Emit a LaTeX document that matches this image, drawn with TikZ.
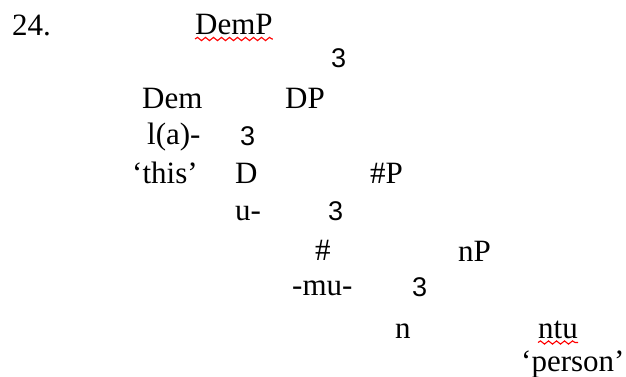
\documentclass[tikz,border=0pt]{standalone}
\usepackage{fontspec}
\setmainfont{Liberation Serif}
\newfontfamily\branchfont{Liberation Sans}
\usetikzlibrary{decorations.pathmorphing}
\begin{document}
\begin{tikzpicture}[x=1pt,y=-1pt,
  lab/.style={anchor=base west,inner sep=0pt,font=\fontsize{31}{36}\selectfont},
  br/.style={anchor=base west,inner sep=0pt,font=\branchfont\fontsize{27}{30}\selectfont},
  spell/.style={red,line width=1.1pt,decorate,decoration={snake,amplitude=1.6pt,segment length=8pt}}]
\useasboundingbox (0,0) rectangle (626,377);
\node[lab] (num) at (12,36) {24.};
\node[lab] (demp) at (195,35) {DemP};
\node[br] (b1) at (331,68) {3};
\node[lab] (dem) at (142,109) {Dem};
\node[lab] (dp) at (285,109) {DP};
\node[lab] (la) at (147,144) {l(a)-};
\node[br] (b2) at (240,145) {3};
\node[lab] (this) at (132,183) {‘this’};
\node[lab] (d) at (235,183) {D};
\node[lab] (hp) at (370,183) {\#P};
\node[lab] (u) at (235,220) {u-};
\node[br] (b3) at (328,220) {3};
\node[lab] (h) at (315,260) {\#};
\node[lab] (np) at (458,261) {nP};
\node[lab] (mu) at (292,295) {-mu-};
\node[br] (b4) at (412,296) {3};
\node[lab] (n) at (395,338) {n};
\node[lab] (ntu) at (538,338) {ntu};
\node[lab] (person) at (521,371) {‘person’};
\draw[spell] ([yshift=-4pt]demp.base west) -- ([yshift=-4pt]demp.base east);
\draw[spell] ([yshift=-4.5pt]ntu.base west) -- ([yshift=-4.5pt]ntu.base east);
\end{tikzpicture}
\end{document}
